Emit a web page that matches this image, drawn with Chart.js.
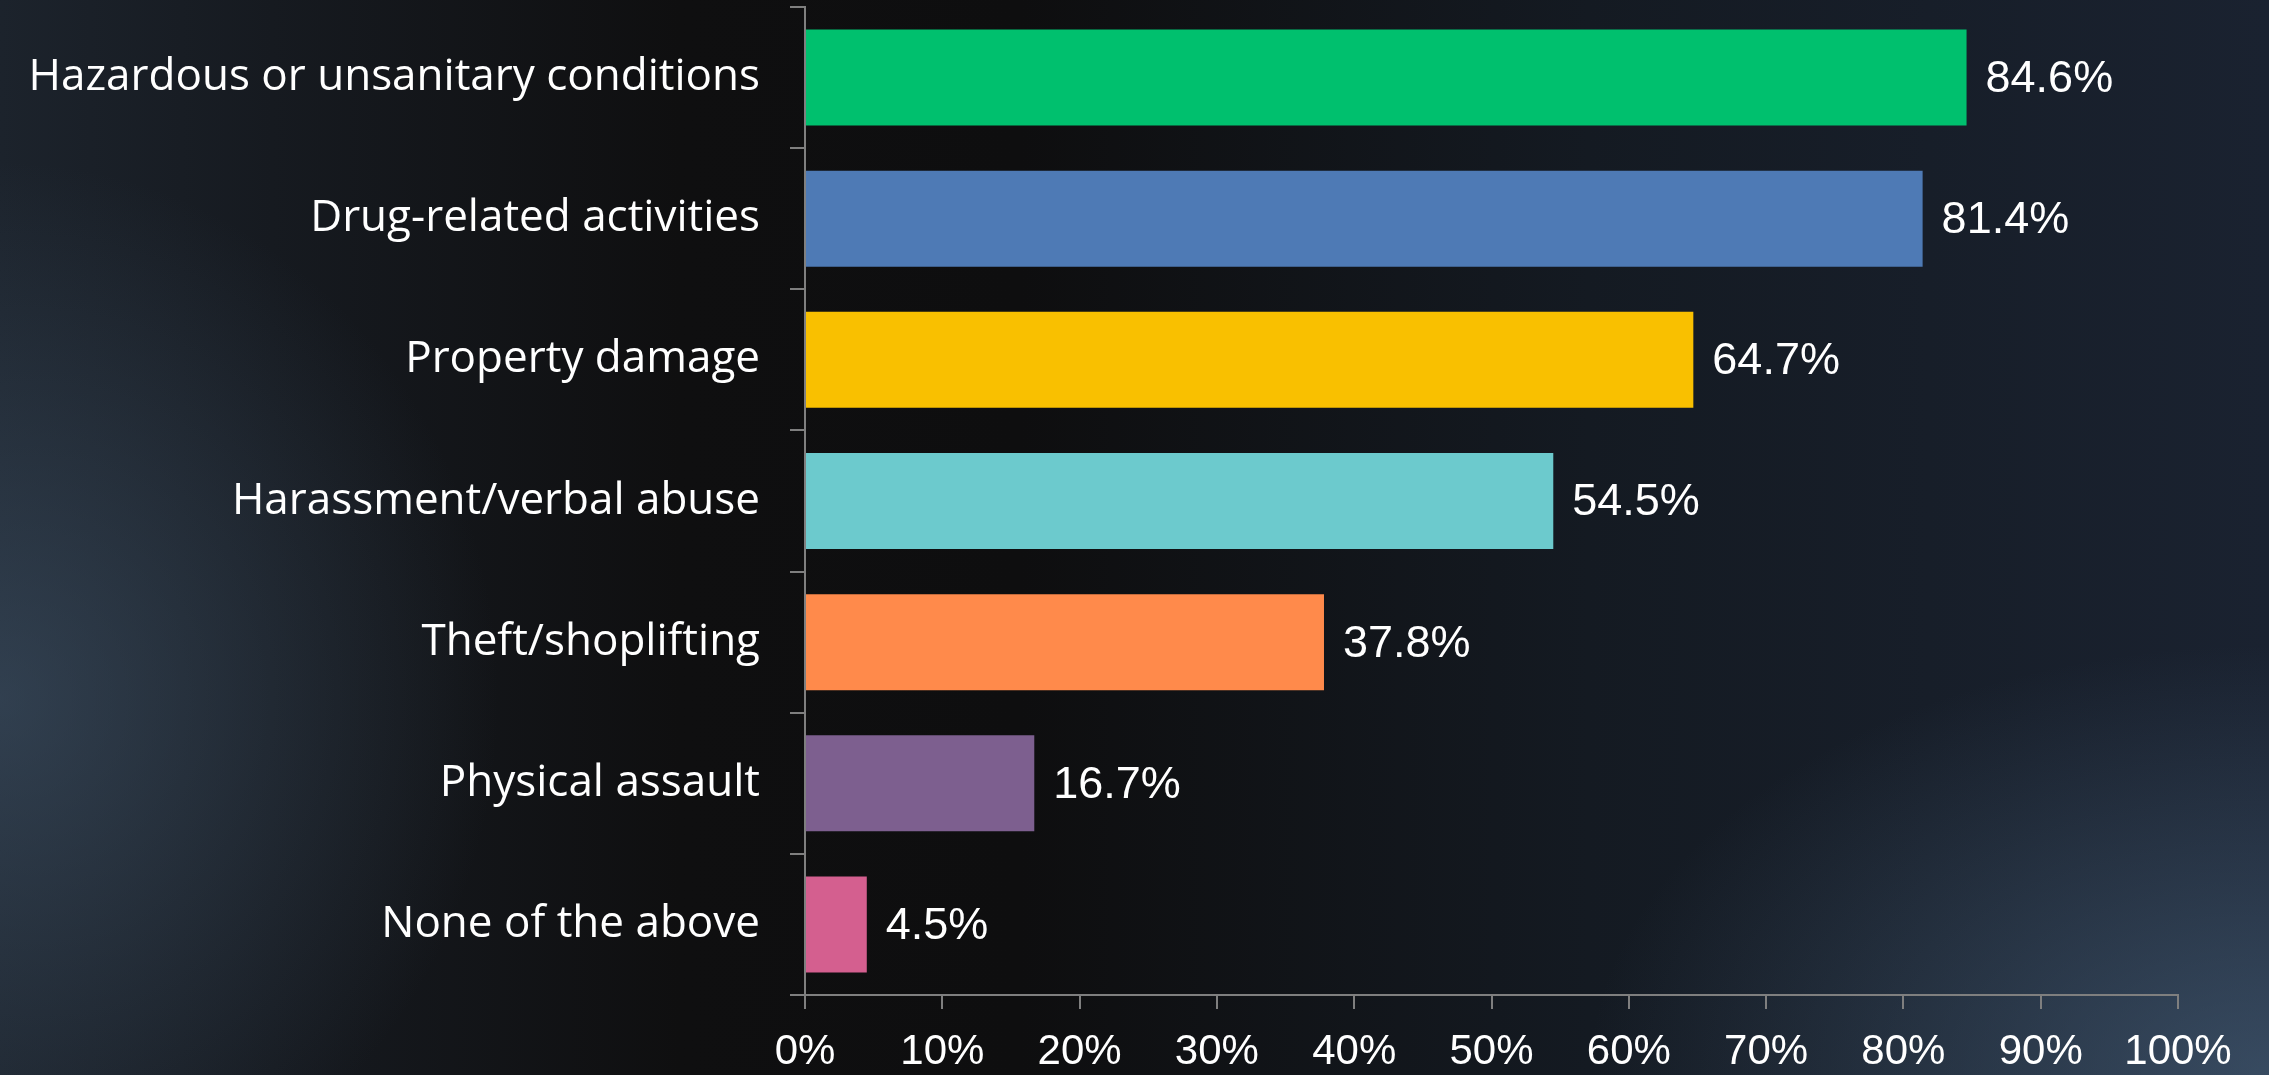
<!DOCTYPE html>
<html>
<head>
<meta charset="utf-8">
<script src="https://cdn.jsdelivr.net/npm/chart.js@4"></script>
<style>
  html, body {
    margin: 0;
    padding: 0;
    width: 2269px;
    height: 1075px;
    overflow: hidden;
  }
  body {
    background:
      radial-gradient(ellipse 30% 40% at 100% 100%, rgba(85, 115, 145, 0.5), rgba(85, 115, 145, 0) 100%),
      radial-gradient(ellipse 22% 50% at 0% 65%, rgba(70, 92, 115, 0.5), rgba(70, 92, 115, 0) 100%),
      linear-gradient(90deg, #1c232c 0%, #161a20 12%, #0f0f10 30%, #0e0e0f 45%, #141a22 70%, #1a2230 100%);
  }
  #wrap {
    position: absolute;
    left: 0;
    top: 0;
    width: 2269px;
    height: 1075px;
  }
</style>
</head>
<body>
<div id="wrap"><canvas id="issuesChart"></canvas></div>
<script>
// Kategori dan nilai (persen)
const categories = [
  'Hazardous or unsanitary conditions',
  'Drug-related activities',
  'Property damage',
  'Harassment/verbal abuse',
  'Theft/shoplifting',
  'Physical assault',
  'None of the above'
];
const values = [84.6, 81.4, 64.7, 54.5, 37.8, 16.7, 4.5];
const barColors = ['#00C06E', '#4E7AB5', '#F9C000', '#6CCACD', '#FF8A4B', '#7D5F8F', '#D45F8F'];
const tickValues = [0, 10, 20, 30, 40, 50, 60, 70, 80, 90, 100];

const axisGray = '#7f7f7f';

// Label nilai di ujung batang
const valueLabels = {
  id: 'valueLabels',
  afterDatasetsDraw(chart) {
    const ctx = chart.ctx;
    const meta = chart.getDatasetMeta(0);
    ctx.save();
    ctx.fillStyle = '#ffffff';
    ctx.font = '45px "Liberation Sans", Arial, sans-serif';
    ctx.textAlign = 'left';
    ctx.textBaseline = 'middle';
    meta.data.forEach(function (bar, i) {
      ctx.fillText(values[i].toFixed(1) + '%', bar.x + 19, bar.y + 2);
    });
    ctx.restore();
  }
};

const ctx = document.getElementById('issuesChart').getContext('2d');
const issuesChart = new Chart(ctx, {
  type: 'bar',
  data: {
    labels: categories,
    datasets: [{
      data: values,
      backgroundColor: barColors,
      borderWidth: 0,
      categoryPercentage: 1.0,
      barPercentage: 0.68
    }]
  },
  options: {
    indexAxis: 'y',
    responsive: true,
    maintainAspectRatio: false,
    animation: false,
    layout: {
      padding: { left: 0, right: 91, top: 7, bottom: 0 }
    },
    plugins: {
      legend: { display: false },
      tooltip: { enabled: false }
    },
    scales: {
      x: {
        min: 0,
        max: 100,
        afterBuildTicks: function (scale) {
          scale.ticks = tickValues.map(function (v) { return { value: v }; });
        },
        afterFit: function (scale) {
          scale.height = 80;
        },
        ticks: {
          color: '#ffffff',
          padding: 18,
          font: { family: '"Liberation Sans", Arial, sans-serif', size: 42 },
          callback: function (v) { return v + '%'; }
        },
        grid: {
          drawOnChartArea: false,
          drawTicks: true,
          tickLength: 14,
          color: axisGray,
          lineWidth: 2
        },
        border: { color: axisGray, width: 2 }
      },
      y: {
        afterFit: function (scale) {
          scale.width = 805;
          scale.paddingTop = 0;
          scale.paddingBottom = 0;
        },
        ticks: {
          color: '#ffffff',
          padding: 30,
          font: { family: '"Open Sans", sans-serif', size: 44 }
        },
        grid: {
          drawOnChartArea: false,
          drawTicks: true,
          tickLength: 15,
          color: axisGray,
          lineWidth: 2
        },
        border: { color: axisGray, width: 2 }
      }
    }
  },
  plugins: [valueLabels]
});
</script>
</body>
</html>
